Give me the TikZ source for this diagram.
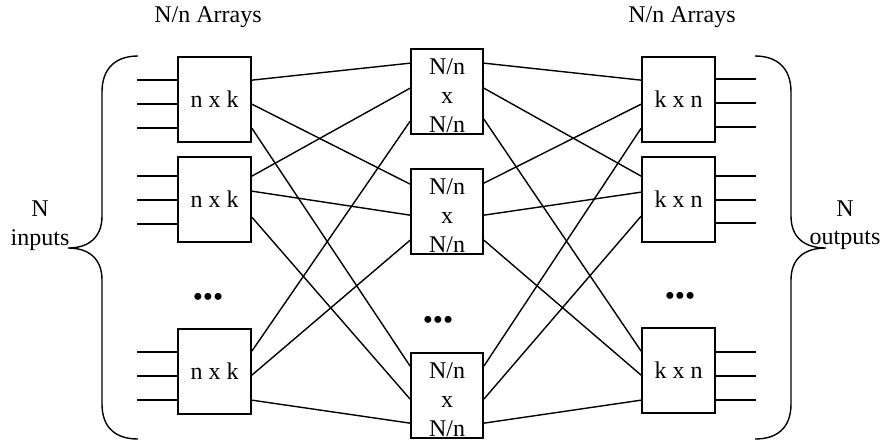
\documentclass[tikz,border=0pt]{standalone}
\usepackage{fontspec}
\setmainfont{Liberation Serif}
\begin{document}
\begin{tikzpicture}[
    x=1pt, y=-1pt,
    line width=1.4pt,
    every node/.style={font=\fontsize{24}{29}\selectfont, inner sep=0pt},
    box/.style={draw, line width=1.7pt, minimum width=73pt, minimum height=85pt},
    midbox/.style={draw, line width=1.7pt, minimum width=72pt, minimum height=85pt},
    midtext/.style={align=center},
    dots/.style={font=\fontsize{29}{29}\selectfont}]
  \useasboundingbox (0,0) rectangle (883,440);
  \node (arrL) at (208,17) {N/n Arrays};
  \node (arrR) at (682,17) {N/n Arrays};
  \node[box] (L1) at (214.5,99.5) {n x k};
  \node[box] (L2) at (214.5,199.5) {n x k};
  \node[box] (L3) at (214.5,371.5) {n x k};
  \node[midbox] (M1) at (447,91.5) {};
  \node[midbox] (M2) at (447,211.5) {};
  \node[midbox] (M3) at (447,395.5) {};
  \node[midtext] (M1t) at ([yshift=-4]M1.center) {N/n\\x\\N/n};
  \node[midtext] (M2t) at ([yshift=-4]M2.center) {N/n\\x\\N/n};
  \node[midtext] (M3t) at ([yshift=-4]M3.center) {N/n\\x\\N/n};
  \node[box] (R1) at (678.5,99.5) {k x n};
  \node[box] (R2) at (678.5,199.5) {k x n};
  \node[box] (R3) at (678.5,370.5) {k x n};
  \node[dots] (dotsL) at (208,300) {•••};
  \node[dots] (dotsM) at (438,323) {•••};
  \node[dots] (dotsR) at (680,299) {•••};
  \node (Nin) at (40,209) {N};
  \node (inputs) at (40,240) {inputs};
  \node (Nout) at (845,209) {N};
  \node (outputs) at (845,240) {outputs};
  \foreach \b/\o in {L1/24, L1/48, L1/72, L2/20, L2/44, L2/68, L3/24, L3/48, L3/72}
    \draw ([yshift=-\o]\b.north west) -- ++(-40,0);
  \foreach \b/\o in {R1/23, R1/47, R1/71, R2/20, R2/44, R2/67, R3/25, R3/49, R3/73}
    \draw ([yshift=-\o]\b.north east) -- ++(40,0);
  \foreach \l/\m/\a/\c in {L1/M1/24/15, L1/M2/48/16, L1/M3/72/14,
      L2/M1/20/40, L2/M2/35/47, L2/M3/61/47,
      L3/M1/23/73, L3/M2/47/72, L3/M3/72/71}
    \draw ([yshift=-\a]\l.north east) -- ([yshift=-\c]\m.north west);
  \foreach \m/\r/\a/\c in {M1/R1/15/24, M1/R2/40/20, M1/R3/71/24,
      M2/R1/15/48, M2/R2/47/36, M2/R3/72/48,
      M3/R1/14/72, M3/R2/47/60, M3/R3/71/73}
    \draw ([yshift=-\a]\m.north east) -- ([yshift=-\c]\r.north west);
  \draw (138,56) .. controls (116,56) and (102,68) .. (102,92) -- (102,216)
    .. controls (102,238) and (88,248) .. (68,248)
    .. controls (88,248) and (102,258) .. (102,280) -- (102,404)
    .. controls (102,428) and (116,439) .. (138,439);
  \draw (755,56) .. controls (777,56) and (791,68) .. (791,92) -- (791,216)
    .. controls (791,238) and (805,248) .. (826,248)
    .. controls (805,248) and (791,258) .. (791,280) -- (791,404)
    .. controls (791,428) and (777,439) .. (755,439);
\end{tikzpicture}
\end{document}
